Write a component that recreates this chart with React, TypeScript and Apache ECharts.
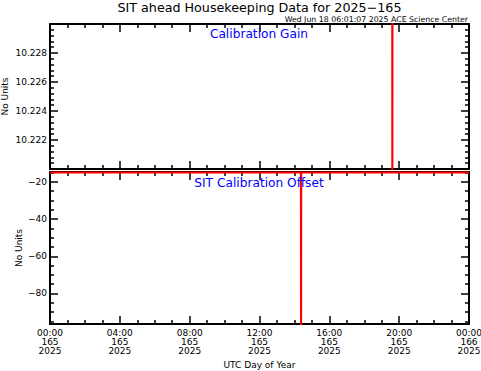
import React, { useEffect, useRef } from "react";
import * as echarts from "echarts";

const TITLE = "SIT ahead Housekeeping Data for 2025\u2212165";
const STAMP = "Wed Jun 18 06:01:07 2025 ACE Science Center";
const PANEL_TITLES = ["Calibration Gain", "SIT Calibration Offset"];
const Y_NAME = "No Units";
const X_NAME = "UTC Day of Year";

const HOUR_TICKS = [0, 4, 8, 12, 16, 20, 24];
const DAY_LABELS = ["165", "165", "165", "165", "165", "165", "166"];
const YEAR_LABEL = "2025";

// Calibration Gain (hours of day 165, value) - out of range except the jump
const gainHours = [0, 19.6, 19.61, 19.62, 24];
const gainValues = [10.236, 10.236, 10.212, 10.236, 10.236];

// SIT Calibration Offset (hours, value)
const offsetHours = [0, 14.37, 14.38, 14.39, 24];
const offsetValues = [-15.0, -15.0, -130, -15.0, -15.0];

const gainRange = [10.22, 10.23];
const gainStep = 0.002;
const offsetRange = [-96.4, -14.7];
const offsetMajor = [-80, -60, -40, -20];
const offsetMinor = [-95, -90, -85, -75, -70, -65, -55, -50, -45, -35, -30, -25, -15];

const FONT = "DejaVu Sans";

export default function App() {
  const ref = useRef<HTMLDivElement>(null);
  useEffect(() => {
    document.body.style.margin = "0";
    const chart = echarts.init(ref.current!, null, { renderer: "svg" });
    const axisLine = { show: true, onZero: false, lineStyle: { color: "#000", width: 2 } };
    const majorTick = { show: true, inside: true, length: 8, lineStyle: { color: "#000", width: 1.5 } };
    const minorTickStyle = { show: true, length: 4, lineStyle: { color: "#000", width: 1.5 } };
    const labelStyle = { color: "#000", fontFamily: FONT, fontSize: 9 };

    const xCommon = (gridIndex: number, position: string, showLabel: boolean) => ({
      type: "value",
      gridIndex,
      position,
      min: 0,
      max: 24,
      interval: 4,
      axisLine,
      axisTick: majorTick,
      minorTick: { ...minorTickStyle, splitNumber: 4 },
      splitLine: { show: false },
      minorSplitLine: { show: false },
      axisLabel: showLabel
        ? {
            ...labelStyle,
            lineHeight: 9,
            margin: 4,
            formatter: (v: number) => {
              const i = HOUR_TICKS.indexOf(v);
              const hh = String(v % 24).padStart(2, "0");
              return `${hh}:00\n${DAY_LABELS[i]}\n${YEAR_LABEL}`;
            },
          }
        : { show: false },
    });

    const gainY = (position: string, showLabel: boolean) => ({
      type: "value",
      gridIndex: 0,
      position,
      min: gainRange[0],
      max: gainRange[1],
      interval: gainStep,
      axisLine,
      axisTick: majorTick,
      minorTick: { ...minorTickStyle, splitNumber: 5 },
      splitLine: { show: false },
      minorSplitLine: { show: false },
      axisLabel: showLabel
        ? { ...labelStyle, margin: 3, showMinLabel: false, showMaxLabel: false, formatter: (v: number) => v.toFixed(3) }
        : { show: false },
      name: showLabel ? Y_NAME : "",
      nameLocation: "middle",
      nameGap: 40.5,
      nameMoveOverlap: false,
      nameTextStyle: { color: "#000", fontFamily: FONT, fontSize: 9 },
    });

    const offsetY = (position: string, values: number[], len: number, showLabel: boolean) => ({
      type: "value",
      gridIndex: 1,
      position,
      min: offsetRange[0],
      max: offsetRange[1],
      axisLine,
      axisTick: { show: true, inside: true, length: len, customValues: values, lineStyle: { color: "#000", width: 1.5 } },
      splitLine: { show: false },
      axisLabel: showLabel
        ? { ...labelStyle, margin: 3, customValues: values, formatter: (v: number) => String(v).replace("-", "\u2212") }
        : { show: false },
      name: showLabel ? Y_NAME : "",
      nameLocation: "middle",
      nameGap: 27,
      nameMoveOverlap: false,
      nameTextStyle: { color: "#000", fontFamily: FONT, fontSize: 9 },
    });

    const xBottom: any = xCommon(1, "bottom", true);
    xBottom.name = X_NAME;
    xBottom.nameLocation = "middle";
    xBottom.nameGap = 36;
    xBottom.nameTextStyle = { color: "#000", fontFamily: FONT, fontSize: 9, verticalAlign: "top" };

    chart.setOption({
      animation: false,
      backgroundColor: "#fff",
      grid: [
        { left: 50, right: 12, top: 24, height: 145, outerBoundsMode: "none", containLabel: false },
        { left: 50, right: 12, top: 172, height: 152, outerBoundsMode: "none", containLabel: false },
      ],
      xAxis: [xCommon(0, "bottom", false), xCommon(0, "top", false), xBottom, xCommon(1, "top", false)],
      yAxis: [
        gainY("left", true),
        gainY("right", false),
        offsetY("left", offsetMajor, 8, true),
        offsetY("left", offsetMinor, 4, false),
        offsetY("right", offsetMajor, 8, false),
        offsetY("right", offsetMinor, 4, false),
      ],
      series: [
        {
          type: "line",
          xAxisIndex: 0,
          yAxisIndex: 0,
          data: gainHours.map((h, i) => [h, gainValues[i]]),
          showSymbol: false,
          symbol: "none",
          clip: true,
          lineStyle: { color: "#ff0000", width: 2 },
          z: 5,
        },
        {
          type: "line",
          xAxisIndex: 2,
          yAxisIndex: 2,
          data: offsetHours.map((h, i) => [h, offsetValues[i]]),
          showSymbol: false,
          symbol: "none",
          clip: true,
          lineStyle: { color: "#ff0000", width: 2 },
          z: 5,
        },
      ],
      graphic: [
        {
          type: "text",
          style: { text: TITLE, x: 259.5, y: 7, textAlign: "center", textVerticalAlign: "middle", fill: "#000", font: `12.7px "${FONT}"` },
        },
        {
          type: "text",
          style: { text: STAMP, x: 468, y: 19.5, textAlign: "right", textVerticalAlign: "middle", fill: "#000", font: `7.8px "${FONT}"` },
        },
        {
          type: "text",
          style: { text: PANEL_TITLES[0], x: 259, y: 33.5, textAlign: "center", textVerticalAlign: "middle", fill: "#0000ff", font: `12.2px "${FONT}"` },
          z: 10,
        },
        {
          type: "text",
          style: { text: PANEL_TITLES[1], x: 259, y: 182.5, textAlign: "center", textVerticalAlign: "middle", fill: "#0000ff", font: `12.2px "${FONT}"` },
          z: 10,
        },
      ],
    });
    return () => chart.dispose();
  }, []);
  return <div ref={ref} style={{ width: 481, height: 371 }} />;
}
